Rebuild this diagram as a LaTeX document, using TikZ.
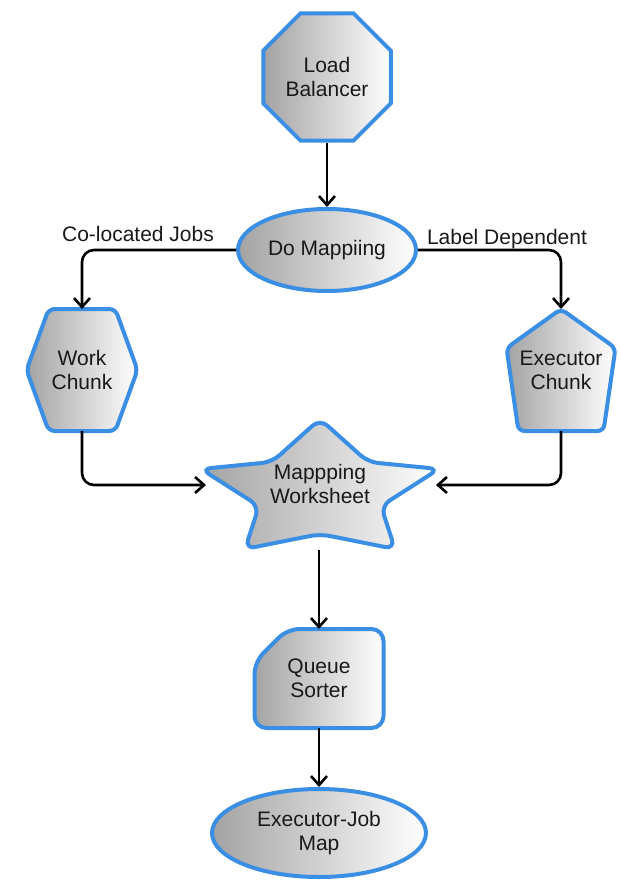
\documentclass[tikz,border=0pt]{standalone}
\usepackage{fontspec}
\setmainfont{Liberation Sans}
\usetikzlibrary{shapes.geometric,arrows.meta,calc,backgrounds}
\definecolor{bord}{RGB}{58,143,228}
\begin{document}
\begin{tikzpicture}[x=1pt,y=-1pt,
  font=\fontsize{21}{24}\selectfont,
  every node/.style={text=black!90},
  shp/.style={draw=bord, line width=4pt, left color=black!36, right color=white},
  tnode/.style={align=center, inner sep=0pt, outer sep=0pt},
  arr/.style={line width=2.6pt, -{Straight Barb[length=9pt,width=16pt]}, rounded corners=12pt},
]
\useasboundingbox (0,0) rectangle (619,880);

% nodes
\node[shp, regular polygon, regular polygon sides=8, minimum size=138, inner sep=0pt, align=center] (lb) at (327,77) {Load\\Balancer};
\node[shp, ellipse, minimum width=178, minimum height=82, inner sep=0pt] (dm) at (327,250) {Do Mappiing};
\node[tnode, minimum width=111, minimum height=122] (wc) at (82,370) {Work\\Chunk};
\node[tnode, minimum width=109, minimum height=122] (ec) at (561,370) {Executor\\Chunk};
\node[tnode] (ws) at (320,484) {Mappping\\Worksheet};
\node[tnode, minimum width=129, minimum height=99] (qs) at (319,678.5) {Queue\\Sorter};
\node[shp, ellipse, minimum width=214, minimum height=88, inner sep=0pt, align=center] (ej) at (319,833) {Executor-Job\\Map};

\node (lj) at (138,234) {Co-located Jobs};
\node (ld) at (507,239) {Label Dependent};

\coordinate (wsl) at (206,485);
\coordinate (wsr) at (436,485);
\coordinate (wsb) at (319,550);

% drawn shapes
\begin{scope}[on background layer]
\path[shp, rounded corners=6pt] (wc.west)
  -- ($(wc.north west)!0.2!(wc.north east)$)
  -- ($(wc.north west)!0.8!(wc.north east)$)
  -- (wc.east)
  -- ($(wc.south west)!0.8!(wc.south east)$)
  -- ($(wc.south west)!0.2!(wc.south east)$)
  -- cycle;
\path[shp, rounded corners=6pt] (ec.north)
  -- ($(ec.north east)!0.32!(ec.south east)$)
  -- ($(ec.south west)!0.89!(ec.south east)$)
  -- ($(ec.south west)!0.11!(ec.south east)$)
  -- ($(ec.north west)!0.32!(ec.south west)$)
  -- cycle;
\path[shp, rounded corners=10pt] (320,419) -- (368,462) -- (439,469) -- (381,506)
  -- (395,549) -- (320,534) -- (245,549) -- (259,506) -- (201,469)
  -- (272,462) -- cycle;
\path[shp, rounded corners=12pt] ($(qs.north west)+(0,33)$) -- ($(qs.north west)+(33,0)$)
  -- (qs.north east) -- (qs.south east) -- (qs.south west) -- cycle;
\end{scope}

% connectors
\draw[arr] (lb) -- (dm);
\draw[arr] (dm.west) -| (wc.north);
\draw[arr] (dm.east) -| (ec.north);
\draw[arr] (wc.south) |- (wsl);
\draw[arr] (ec.south) |- (wsr);
\draw[arr] (wsb) -- (qs.north);
\draw[arr] (qs) -- (ej);
\end{tikzpicture}
\end{document}
